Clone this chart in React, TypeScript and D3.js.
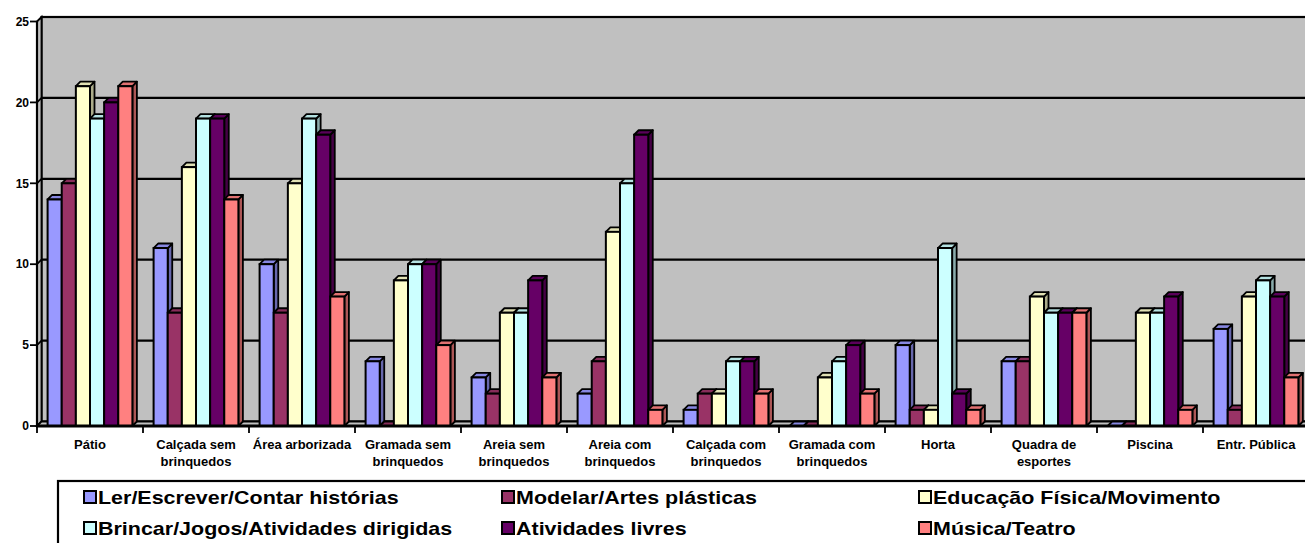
import React, { useEffect, useRef } from 'react';
import * as d3 from 'd3';

const categories = [
  'Pátio',
  'Calçada sem|brinquedos',
  'Área arborizada',
  'Gramada sem|brinquedos',
  'Areia sem|brinquedos',
  'Areia com|brinquedos',
  'Calçada com|brinquedos',
  'Gramada com|brinquedos',
  'Horta',
  'Quadra de|esportes',
  'Piscina',
  'Entr. Pública'
];

const seriesNames = [
  'Ler/Escrever/Contar histórias',
  'Modelar/Artes plásticas',
  'Educação Física/Movimento',
  'Brincar/Jogos/Atividades dirigidas',
  'Atividades livres',
  'Música/Teatro'
];

const seriesColors = ['#9999FF', '#993366', '#FFFFCC', '#CCFFFF', '#660066', '#FF8080'];

const lerValues = [14, 11, 10, 4, 3, 2, 1, 0, 5, 4, 0, 6];
const modelarValues = [15, 7, 7, 0, 2, 4, 2, 0, 1, 4, 0, 1];
const educacaoValues = [21, 16, 15, 9, 7, 12, 2, 3, 1, 8, 7, 8];
const brincarValues = [19, 19, 19, 10, 7, 15, 4, 4, 11, 7, 7, 9];
const livresValues = [20, 19, 18, 10, 9, 18, 4, 5, 2, 7, 8, 8];
const musicaValues = [21, 14, 8, 5, 3, 1, 2, 2, 1, 7, 1, 3];

const seriesValues = [lerValues, modelarValues, educacaoValues, brincarValues, livresValues, musicaValues];

const yTicks = [0, 5, 10, 15, 20, 25];

const W = 1305;
const H = 543;
const FONT = '"Liberation Sans", Arial, sans-serif';

const App: React.FC = () => {
  const svgRef = useRef<SVGSVGElement>(null);

  useEffect(() => {
    if (!svgRef.current) return;
    d3.select(svgRef.current).selectAll('*').remove();
    const svg = d3.select(svgRef.current);

    const depth = 4.5;
    const x0 = 37;
    const x1 = 1309;

    const y = d3.scaleLinear().domain([0, 25]).range([426, 21.5]);
    const x = d3.scaleBand<string>().domain(categories).range([x0, x1]).paddingInner(0).paddingOuter(0);
    const barW = x.bandwidth() / 7.5;

    const stroke = '#000';
    const pts = (p: number[][]) => p.map(q => q.join(',')).join(' ');

    // back wall
    svg.append('rect')
      .attr('x', x0 + depth)
      .attr('y', y(25) - depth)
      .attr('width', x1 - x0 + 10)
      .attr('height', y(0) - y(25))
      .attr('fill', '#C0C0C0')
      .attr('stroke', stroke)
      .attr('stroke-width', 2.2);

    // left wall
    svg.append('polygon')
      .attr('points', pts([[x0, y(25)], [x0 + depth, y(25) - depth], [x0 + depth, y(0) - depth], [x0, y(0)]]))
      .attr('fill', '#C0C0C0')
      .attr('stroke', stroke)
      .attr('stroke-width', 1.8);

    // floor
    svg.append('polygon')
      .attr('points', pts([[x0, y(0)], [x0 + depth, y(0) - depth], [x1 + 10, y(0) - depth], [x1 + 10, y(0)]]))
      .attr('fill', '#C0C0C0')
      .attr('stroke', stroke)
      .attr('stroke-width', 1.8);

    // gridlines
    yTicks.filter(t => t > 0 && t < 25).forEach(t => {
      svg.append('line')
        .attr('x1', x0 + depth).attr('x2', x1 + 10)
        .attr('y1', y(t) - depth).attr('y2', y(t) - depth)
        .attr('stroke', stroke).attr('stroke-width', 2.2);
      svg.append('line')
        .attr('x1', x0).attr('x2', x0 + depth)
        .attr('y1', y(t)).attr('y2', y(t) - depth)
        .attr('stroke', stroke).attr('stroke-width', 1.8);
    });

    // bars
    categories.forEach((cat, ci) => {
      seriesValues.forEach((vals, si) => {
        const v = vals[ci];
        const bx = (x(cat) as number) + barW * 0.75 + si * barW;
        const by = y(v);
        const base = y(0);
        const c = seriesColors[si];
        const top = d3.color(c)!.darker(0.35).toString();
        const side = d3.color(c)!.darker(1.1).toString();

        svg.append('polygon')
          .attr('points', pts([[bx + barW, by], [bx + barW + depth, by - depth], [bx + barW + depth, base - depth], [bx + barW, base]]))
          .attr('fill', side)
          .attr('stroke', stroke)
          .attr('stroke-width', 1.8)
          .attr('stroke-linejoin', 'round');

        svg.append('polygon')
          .attr('points', pts([[bx, by], [bx + depth, by - depth], [bx + barW + depth, by - depth], [bx + barW, by]]))
          .attr('fill', top)
          .attr('stroke', stroke)
          .attr('stroke-width', 1.8)
          .attr('stroke-linejoin', 'round');

        svg.append('rect')
          .attr('x', bx)
          .attr('y', by)
          .attr('width', barW)
          .attr('height', base - by)
          .attr('fill', c)
          .attr('stroke', stroke)
          .attr('stroke-width', 2);
      });
    });

    // y axis
    svg.append('line')
      .attr('x1', x0).attr('x2', x0)
      .attr('y1', y(25)).attr('y2', y(0))
      .attr('stroke', stroke).attr('stroke-width', 2.2);

    yTicks.forEach(t => {
      svg.append('line')
        .attr('x1', x0 - 7).attr('x2', x0)
        .attr('y1', y(t)).attr('y2', y(t))
        .attr('stroke', stroke).attr('stroke-width', 1.8);
      svg.append('text')
        .attr('x', x0 - 8)
        .attr('y', y(t))
        .attr('dy', '0.35em')
        .attr('text-anchor', 'end')
        .attr('font-family', FONT)
        .attr('font-size', '12px')
        .attr('font-weight', 'bold')
        .text(String(t));
    });

    // x axis
    svg.append('line')
      .attr('x1', x0).attr('x2', W)
      .attr('y1', y(0)).attr('y2', y(0))
      .attr('stroke', stroke).attr('stroke-width', 2.8);

    categories.forEach(cat => {
      const left = x(cat) as number;
      svg.append('line')
        .attr('x1', left).attr('x2', left)
        .attr('y1', y(0)).attr('y2', y(0) + 7)
        .attr('stroke', stroke).attr('stroke-width', 1.8);

      const lines = cat.split('|');
      const t = svg.append('text')
        .attr('text-anchor', 'middle')
        .attr('font-family', FONT)
        .attr('font-size', '13px')
        .attr('font-weight', 'bold')
        .attr('fill', '#000');
      lines.forEach((ln, i) => {
        t.append('tspan')
          .attr('x', left + x.bandwidth() / 2)
          .attr('y', 449 + i * 17)
          .text(ln);
      });
    });

    // legend
    svg.append('rect')
      .attr('x', 58)
      .attr('y', 481)
      .attr('width', 1260)
      .attr('height', 80)
      .attr('fill', '#fff')
      .attr('stroke', stroke)
      .attr('stroke-width', 2.2);

    const colX = [84, 502, 919];
    const rowY = [491, 522];
    seriesNames.forEach((name, i) => {
      const cx = colX[i % 3];
      const ry = rowY[Math.floor(i / 3)];
      svg.append('rect')
        .attr('x', cx)
        .attr('y', ry)
        .attr('width', 12)
        .attr('height', 12)
        .attr('fill', seriesColors[i])
        .attr('stroke', stroke)
        .attr('stroke-width', 2);
      svg.append('text')
        .attr('transform', `translate(${cx + 14},${ry + 12.5}) scale(1.13,1)`)
        .attr('font-family', FONT)
        .attr('font-size', '19px')
        .attr('font-weight', 'bold')
        .attr('fill', '#000')
        .text(name);
    });
  }, []);

  return (
    <svg
      ref={svgRef}
      width={W}
      height={H}
      style={{ position: 'absolute', left: 0, top: 0, background: '#fff' }}
    />
  );
};

export default App;
